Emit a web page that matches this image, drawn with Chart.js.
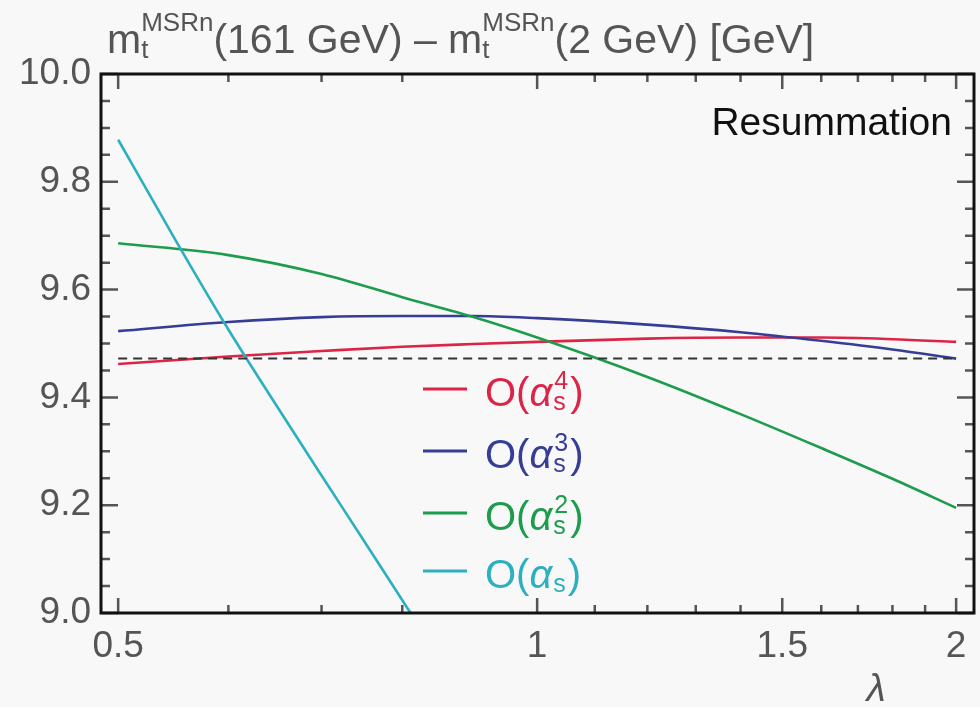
<!DOCTYPE html>
<html>
<head>
<meta charset="utf-8">
<script src="https://cdn.jsdelivr.net/npm/chart.js@4.4.1/dist/chart.umd.min.js"></script>
<style>
  html, body { margin: 0; padding: 0; background: #f8f8f8; }
  #wrap { width: 980px; height: 707px; position: relative; }
</style>
</head>
<body>
<div id="wrap"><canvas id="chart" width="980" height="707"></canvas></div>
<script>
// lambda grid shared by the three slow curves
const lambdas = [0.5, 0.6, 0.7, 0.8, 0.9, 1.0, 1.2, 1.4, 1.6, 1.8, 2.0];
const order4 = [9.462, 9.476, 9.486, 9.494, 9.499, 9.503, 9.509, 9.511, 9.511, 9.508, 9.503];
const order3 = [9.523, 9.540, 9.549, 9.551, 9.551, 9.547, 9.535, 9.521, 9.505, 9.489, 9.472];
const order2 = [9.686, 9.664, 9.629, 9.586, 9.549, 9.511, 9.438, 9.369, 9.306, 9.249, 9.195];

// O(alpha_s) leaves the frame early
const lambdas1 = [0.5, 0.55, 0.6, 0.65, 0.7, 0.75, 0.811];
const order1 = [9.878, 9.691, 9.526, 9.384, 9.255, 9.136, 9.0];

const refLambda = [0.5, 2.0];
const refValue = [9.472, 9.472];

const xTicks = [0.5, 0.6, 0.7, 0.8, 1, 1.1, 1.2, 1.3, 1.4, 1.5, 1.6, 1.7, 1.8, 1.9, 2];
const xMajor = [0.5, 1, 1.5, 2];
const xTickLabels = ['0.5', '1', '1.5', '2'];
const yMajor = [9.0, 9.2, 9.4, 9.6, 9.8, 10.0];

const colors = {
  o4: '#dc2447',
  o3: '#353d97',
  o2: '#1c9c4c',
  o1: '#2cb0c0'
};

const FONT = '"Liberation Sans", Arial, sans-serif';

const toPoints = (xs, ys) => xs.map((x, i) => ({ x: x, y: ys[i] }));

function drawRich(ctx, x, y, parts, color) {
  ctx.fillStyle = color;
  ctx.textAlign = 'left';
  ctx.textBaseline = 'alphabetic';
  let cx = x;
  parts.forEach((p) => {
    if (p.stack) {
      let w = 0;
      p.stack.forEach((s) => {
        ctx.font = (s.italic ? 'italic ' : '') + s.size + 'px ' + FONT;
        ctx.fillText(s.text, cx + (s.dx || 0), y + s.dy);
        w = Math.max(w, ctx.measureText(s.text).width + (s.dx || 0));
      });
      cx += w;
    } else {
      ctx.font = (p.italic ? 'italic ' : '') + p.size + 'px ' + FONT;
      ctx.fillText(p.text, cx + (p.dx || 0), y + (p.dy || 0));
      cx += ctx.measureText(p.text).width + (p.dx || 0) + (p.after || 0);
    }
  });
}

const frameAndText = {
  id: 'frameAndText',
  beforeDraw(chart) {
    const { ctx } = chart;
    ctx.save();
    ctx.fillStyle = '#f8f8f8';
    ctx.fillRect(0, 0, chart.width, chart.height);
    ctx.restore();
  },
  afterDraw(chart) {
    const { ctx, chartArea } = chart;
    const xs = chart.scales.x;
    const ys = chart.scales.y;
    const { left, right, top, bottom } = chartArea;
    ctx.save();

    // inward ticks on all four sides
    ctx.strokeStyle = '#555';
    ctx.lineWidth = 2.5;
    ctx.beginPath();
    xTicks.forEach((v) => {
      const px = xs.getPixelForValue(v);
      const len = xMajor.includes(v) ? 15 : 8;
      ctx.moveTo(px, bottom); ctx.lineTo(px, bottom - len);
      ctx.moveTo(px, top); ctx.lineTo(px, top + len);
    });
    for (let k = 0; k <= 20; k++) {
      const v = 9 + k * 0.05;
      const py = ys.getPixelForValue(v);
      const len = k % 4 === 0 ? 17 : 9;
      ctx.moveTo(left, py); ctx.lineTo(left + len, py);
      ctx.moveTo(right, py); ctx.lineTo(right - len, py);
    }
    ctx.stroke();

    // frame
    ctx.strokeStyle = '#111';
    ctx.lineWidth = 3;
    ctx.strokeRect(left, top, right - left, bottom - top);

    // title
    drawRich(ctx, 107, 53, [
      { text: 'm', size: 41 },
      { stack: [{ text: 'MSRn', size: 26, dy: -22 }, { text: 't', size: 26, dy: 5 }] },
      { text: '(161 GeV) \u2013 m', size: 41 },
      { stack: [{ text: 'MSRn', size: 26, dy: -22 }, { text: 't', size: 26, dy: 5 }] },
      { text: '(2 GeV) [GeV]', size: 41 }
    ], '#555');

    // label inside frame
    ctx.font = '39px ' + FONT;
    ctx.fillStyle = '#111';
    ctx.textAlign = 'right';
    ctx.fillText('Resummation', 952, 135);

    // axis variable
    ctx.font = 'italic 39px ' + FONT;
    ctx.fillStyle = '#555';
    ctx.textAlign = 'center';
    ctx.fillText('\u03bb', 876, 701);

    // legend
    const legend = [
      { c: colors.o4, p: '4', base: 406 },
      { c: colors.o3, p: '3', base: 468 },
      { c: colors.o2, p: '2', base: 530 },
      { c: colors.o1, p: '', base: 588 }
    ];
    legend.forEach((row) => {
      ctx.strokeStyle = row.c;
      ctx.lineWidth = 3;
      ctx.beginPath();
      ctx.moveTo(423, row.base - 17);
      ctx.lineTo(467, row.base - 17);
      ctx.stroke();
      const stack = [{ text: 's', size: 25, dy: 4, dx: 1 }];
      if (row.p) stack.push({ text: row.p, size: 25, dy: -17, dx: 2 });
      drawRich(ctx, 485, row.base, [
        { text: 'O(', size: 40 },
        { text: '\u03b1', size: 40, italic: true },
        { stack: stack },
        { text: ')', size: 40, dx: 2 }
      ], row.c);
    });
    ctx.restore();
  }
};

const lineStyle = (color) => ({
  borderColor: color,
  borderWidth: 2.6,
  pointRadius: 0,
  fill: false,
  cubicInterpolationMode: 'monotone'
});

new Chart(document.getElementById('chart'), {
  type: 'line',
  data: {
    datasets: [
      Object.assign({ label: 'ref', data: toPoints(refLambda, refValue) }, {
        borderColor: '#333', borderWidth: 2, borderDash: [9, 6], pointRadius: 0, fill: false
      }),
      Object.assign({ label: 'O(as)', data: toPoints(lambdas1, order1) }, lineStyle(colors.o1)),
      Object.assign({ label: 'O(as^2)', data: toPoints(lambdas, order2) }, lineStyle(colors.o2)),
      Object.assign({ label: 'O(as^3)', data: toPoints(lambdas, order3) }, lineStyle(colors.o3)),
      Object.assign({ label: 'O(as^4)', data: toPoints(lambdas, order4) }, lineStyle(colors.o4))
    ]
  },
  options: {
    responsive: false,
    animation: false,
    devicePixelRatio: 1,
    layout: { padding: { top: 74, right: 6, left: 0, bottom: 0 } },
    plugins: { legend: { display: false }, tooltip: { enabled: false } },
    scales: {
      x: {
        type: 'logarithmic',
        min: 0.486,
        max: 2.06,
        grid: { display: false, drawTicks: false },
        border: { display: false },
        afterBuildTicks: (scale) => {
          scale.ticks = xTicks.map((v) => ({ value: v }));
        },
        afterFit: (scale) => { scale.height = 94; },
        ticks: {
          autoSkip: false,
          maxRotation: 0,
          padding: 12,
          color: '#555',
          font: { family: FONT, size: 37 },
          callback: (value) => {
            const i = xMajor.indexOf(value);
            return i >= 0 ? xTickLabels[i] : '';
          }
        }
      },
      y: {
        min: 9,
        max: 10,
        grid: { display: false, drawTicks: false },
        border: { display: false },
        afterBuildTicks: (scale) => {
          scale.ticks = yMajor.map((v) => ({ value: v }));
        },
        afterFit: (scale) => { scale.width = 101; },
        ticks: {
          padding: 10,
          color: '#555',
          font: { family: FONT, size: 37 },
          callback: (value) => Number(value).toFixed(1)
        }
      }
    }
  },
  plugins: [frameAndText]
});
</script>
</body>
</html>
